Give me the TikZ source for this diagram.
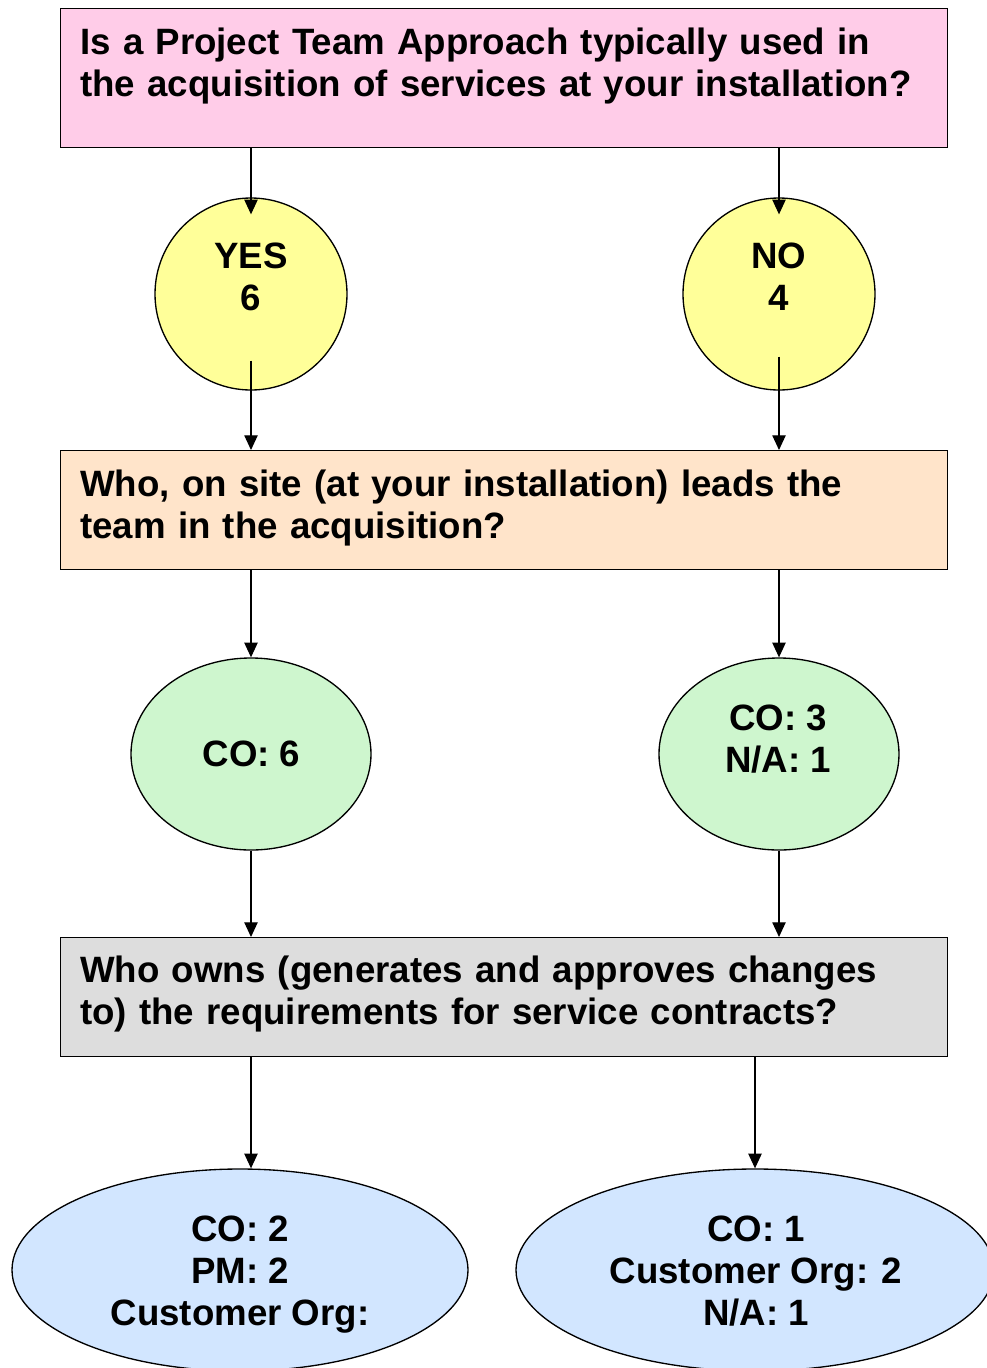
\documentclass[tikz,border=0pt]{standalone}
\usepackage{fontspec}
\setmainfont{Liberation Sans}
\usetikzlibrary{arrows.meta,calc,shapes.geometric}
\definecolor{qpink}{RGB}{255,204,232}
\definecolor{qpeach}{RGB}{255,228,202}
\definecolor{qgrey}{RGB}{221,221,221}
\definecolor{qyellow}{RGB}{255,255,153}
\definecolor{qgreen}{RGB}{206,246,206}
\definecolor{qblue}{RGB}{210,230,255}
\newcommand{\qfont}{\fontsize{27.5pt}{31.5pt}\selectfont\bfseries}
\begin{document}
\begin{tikzpicture}[x=0.75pt,y=-0.75pt,
  qbox/.style={draw=black,line width=1pt,rectangle,inner sep=0pt,minimum width=665.25pt,anchor=north west},
  qtext/.style={anchor=base west,align=left,text width=660pt,inner sep=0pt,font=\qfont},
  ctext/.style={anchor=center,align=center,inner sep=0pt,font=\qfont},
  circ/.style={draw=black,line width=1pt,circle,inner sep=0pt,minimum size=144pt,fill=qyellow},
  gell/.style={draw=black,line width=1pt,ellipse,inner sep=0pt,minimum width=180pt,minimum height=144pt,fill=qgreen},
  bell/.style={draw=black,line width=1pt,ellipse,inner sep=0pt,minimum height=151.5pt,fill=qblue},
  arr/.style={draw=black,line width=0.9pt,-{Triangle[length=11pt,width=10pt]}}]
\useasboundingbox (0,0) rectangle (987,1368);
% question boxes
\node[qbox,fill=qpink,minimum height=104.25pt] (q1) at (60,8) {};
\node[qtext] (q1t) at (80,54) {Is a Project Team Approach typically used in\\the acquisition of services at your installation?};
\node[qbox,fill=qpeach,minimum height=89.25pt] (q2) at (60,450) {};
\node[qtext] (q2t) at (80,496) {Who, on site (at your installation) leads the\\team in the acquisition?};
\node[qbox,fill=qgrey,minimum height=89.25pt] (q3) at (60,937) {};
\node[qtext] (q3t) at (80,982) {Who owns (generates and approves changes\\to) the requirements for service contracts?};
% yes / no circles
\node[circ] (yes) at (251,294) {};
\node[ctext] (yest) at (251,277) {YES\\6};
\node[circ] (no) at (779,294) {};
\node[ctext] (not) at (779,277) {NO\\4};
% green ellipses
\node[gell] (g1) at (251,754) {};
\node[ctext] (g1t) at (251.5,754) {CO: 6};
\node[gell] (g2) at (779,754) {};
\node[ctext] (g2t) at (778,739) {CO: 3\\N/A: 1};
% blue ellipses
\node[bell,minimum width=342pt] (b1) at (240,1270) {};
\node[ctext] (b1t) at (240,1275) {CO: 2\\PM: 2\\Customer Org:};
\node[bell,minimum width=358.5pt] (b2) at (755,1270) {};
\node[ctext] (b2t) at (756,1271.5) {CO: 1\\Customer Org: 2\\N/A: 1};
% connectors
\draw[arr] (yes |- q1.south) -- ($(yes.north)+(0,17)$);
\draw[arr] (no |- q1.south) -- ($(no.north)+(0,17)$);
\draw[arr] ($(yes.south)+(0,-30)$) -- (yes |- q2.north);
\draw[arr] ($(no.south)+(0,-34)$) -- (no |- q2.north);
\draw[arr] (g1 |- q2.south) -- (g1.north);
\draw[arr] (g2 |- q2.south) -- (g2.north);
\draw[arr] (g1.south) -- (g1 |- q3.north);
\draw[arr] (g2.south) -- (g2 |- q3.north);
\draw[arr] (g1 |- q3.south) -- (g1 |- b1.north);
\draw[arr] (b2 |- q3.south) -- (b2.north);
\end{tikzpicture}
\end{document}
